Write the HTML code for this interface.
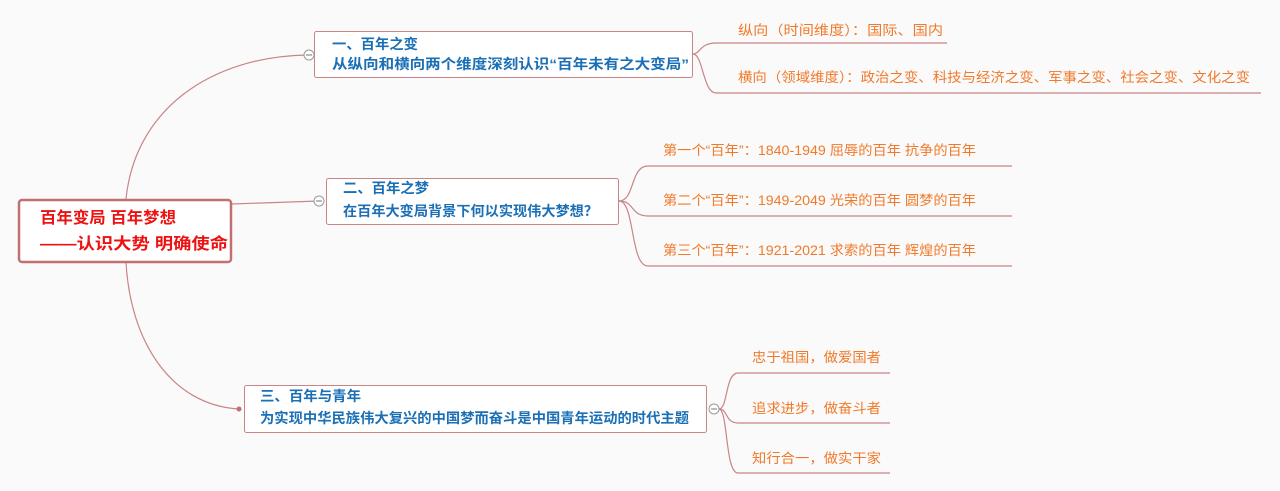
<!DOCTYPE html>
<html><head><meta charset="utf-8"><style>
body{margin:0;background:#fafafa;}
svg{display:block;font-family:"Liberation Sans","Noto Sans CJK SC",sans-serif;}
.b{fill:#1a6fb5;font-size:14px;font-weight:bold;}
.o{fill:#f07a2a;font-size:13.5px;}
.r{fill:#ee1111;font-size:16px;font-weight:bold;}
</style></head><body>
<svg width="1280" height="491" viewBox="0 0 1280 491">
<g fill="none" stroke="#c98585" stroke-width="1.2">
<path d="M126 199 C135 110 210 56 309 55"/>
<path d="M231 204 L319 201"/>
<path d="M126 262 C130 340 170 405 239 409"/>
<path d="M693 54 C700 54 700 43 716 43 L947 43"/>
<path d="M693 54 C703 54 703 93 716 93 L1261 93"/>
<path d="M619 201 C635 201 630 166 648 166 L1012 166"/>
<path d="M619 201 C635 201 630 216 648 216 L1012 216"/>
<path d="M619 201 C635 201 630 266 648 266 L1012 266"/>
<path d="M719 409 C728 409 725 373 738 373 L890 373"/>
<path d="M719 409 C728 409 725 423 738 423 L890 423"/>
<path d="M719 409 C728 409 725 473 738 473 L890 473"/>
</g>
<rect x="19" y="200" width="212" height="62" rx="3" fill="#fff" stroke="#c07070" stroke-width="2.5"/>
<text class="r" x="40" y="223" textLength="136" lengthAdjust="spacingAndGlyphs">百年变局 百年梦想</text>
<text class="r" x="40" y="249" textLength="188" lengthAdjust="spacingAndGlyphs">——认识大势 明确使命</text>
<rect x="314.5" y="31.5" width="378" height="46" rx="2" fill="#fff" stroke="#c98585"/>
<text class="b" x="332" y="49" textLength="86" lengthAdjust="spacingAndGlyphs">一、百年之变</text>
<text class="b" x="332" y="69" textLength="357" lengthAdjust="spacingAndGlyphs">从纵向和横向两个维度深刻认识“百年未有之大变局”</text>
<rect x="326.5" y="178.5" width="292" height="46" rx="2" fill="#fff" stroke="#c98585"/>
<text class="b" x="343" y="193" textLength="86" lengthAdjust="spacingAndGlyphs">二、百年之梦</text>
<text class="b" x="343" y="216" textLength="255" lengthAdjust="spacingAndGlyphs">在百年大变局背景下何以实现伟大梦想？</text>
<rect x="244.5" y="385.5" width="462" height="47" rx="2" fill="#fff" stroke="#c98585"/>
<text class="b" x="260" y="401" textLength="101" lengthAdjust="spacingAndGlyphs">三、百年与青年</text>
<text class="b" x="260" y="423" textLength="429" lengthAdjust="spacingAndGlyphs">为实现中华民族伟大复兴的中国梦而奋斗是中国青年运动的时代主题</text>
<g fill="#fff" stroke="#999">
<circle cx="309" cy="55" r="5"/><circle cx="319" cy="201" r="5"/><circle cx="714" cy="409" r="5"/>
</g>
<g stroke="#777"><path d="M306 55h6M316 201h6M711 409h6"/></g>
<circle cx="239" cy="409" r="2.5" fill="#c07070"/>
<text class="o" x="738" y="35" textLength="205" lengthAdjust="spacingAndGlyphs">纵向（时间维度）：国际、国内</text>
<text class="o" x="738" y="82" textLength="512" lengthAdjust="spacingAndGlyphs">横向（领域维度）：政治之变、科技与经济之变、军事之变、社会之变、文化之变</text>
<text class="o" x="663" y="155" textLength="313" lengthAdjust="spacingAndGlyphs">第一个“百年”：1840-1949 屈辱的百年 抗争的百年</text>
<text class="o" x="663" y="205" textLength="313" lengthAdjust="spacingAndGlyphs">第二个“百年”：1949-2049 光荣的百年 圆梦的百年</text>
<text class="o" x="663" y="255" textLength="313" lengthAdjust="spacingAndGlyphs">第三个“百年”：1921-2021 求索的百年 辉煌的百年</text>
<text class="o" x="752" y="362" textLength="129" lengthAdjust="spacingAndGlyphs">忠于祖国，做爱国者</text>
<text class="o" x="752" y="413" textLength="129" lengthAdjust="spacingAndGlyphs">追求进步，做奋斗者</text>
<text class="o" x="752" y="463" textLength="129" lengthAdjust="spacingAndGlyphs">知行合一，做实干家</text>
</svg>
</body></html>
